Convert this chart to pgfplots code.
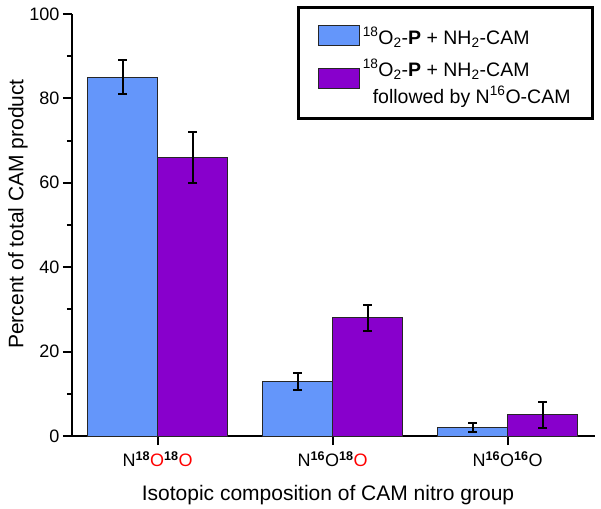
\documentclass[border=0pt]{standalone}
\usepackage{pgfplots}
\pgfplotsset{compat=1.18}
\usepackage{fontspec}
\setmainfont{Liberation Sans}
\definecolor{cblue}{RGB}{100,150,250}
\definecolor{cpurple}{RGB}{136,0,204}
\newcommand{\isup}[1]{\textsuperscript{#1}}
\pgfplotsset{myerr/.style={error bars/y dir=both, error bars/y explicit,
  error bars/error bar style={line width=2pt, black},
  error bars/error mark options={line width=2pt, black, mark size=4.5pt, rotate=90}}}
\begin{document}
\begin{tikzpicture}
\useasboundingbox (-72pt,-72pt) rectangle (529pt,436pt);
\begin{axis}[
  scale only axis, width=523pt, height=422pt,
  at={(0,0)}, anchor=south west,
  xmin=-0.49, xmax=2.5, ymin=0, ymax=100,
  axis x line*=bottom, axis y line*=left,
  axis line style={line width=2.5pt},
  tick align=outside,
  major tick length=9pt, minor tick length=5pt,
  every tick/.style={black, line width=2pt},
  xtick={0,1,2},
  xticklabels={N\isup{\textbf{18}}\textcolor{red}{O}\isup{\textbf{18}}\textcolor{red}{O},
               N\isup{\textbf{16}}O\isup{\textbf{18}}\textcolor{red}{O},
               N\isup{\textbf{16}}O\isup{\textbf{16}}O},
  ytick={0,20,40,60,80,100},
  minor y tick num=1,
  /pgf/number format/assume math mode=true,
  ticklabel style={font=\fontsize{18}{18}\selectfont},
  xticklabel style={yshift=-3pt},
  xlabel={Isotopic composition of CAM nitro group},
  ylabel={Percent of total CAM product},
  label style={font=\fontsize{21}{21}\selectfont},
  xlabel style={at={(axis description cs:0.4895,-0.1517)}, anchor=base},
  ylabel style={at={(axis description cs:-0.1033,0.526)}, anchor=center},
  legend style={at={(rel axis cs:1,1)}, anchor=north east, yshift=8pt, xshift=-1pt,
    draw=black, line width=3pt, font=\fontsize{19.5}{19.5}\selectfont,
    inner xsep=19pt, inner ysep=8pt, row sep=0pt,
    nodes={anchor=base west, inner xsep=3pt, inner ysep=0pt}},
  legend image code/.code={\draw[#1, line width=1pt] (0pt,-1pt) rectangle (41pt,19pt);},
]
\addplot[ybar, bar width=0.4, bar shift=0pt, fill=cblue, draw=black!85, line width=1pt, myerr]
  coordinates {(-0.2,85) +- (0,4) (0.8,13) +- (0,2) (1.8,2) +- (0,1)};
\addlegendentry[text height=29pt, text depth=13pt]{\isup{18}O\textsubscript{2}-\textbf{P} + NH\textsubscript{2}-CAM}
\addplot[ybar, bar width=0.4, bar shift=0pt, fill=cpurple, draw=black!85, line width=1pt, myerr,
  legend image code/.code={\draw[fill=cpurple, draw=black!85, line width=1pt] (0pt,-12pt) rectangle (41pt,8pt);}]
  coordinates {(0.2,66) +- (0,6) (1.2,28) +- (0,3) (2.2,5) +- (0,3)};
\addlegendentry[text height=19pt, text depth=8pt]{\isup{18}O\textsubscript{2}-\textbf{P} + NH\textsubscript{2}-CAM}
\addlegendimage{empty legend}
\addlegendentry[text height=14.5pt, text depth=7pt]{\hspace*{10pt}followed by N\isup{16}O-CAM}
\end{axis}
\end{tikzpicture}
\end{document}
